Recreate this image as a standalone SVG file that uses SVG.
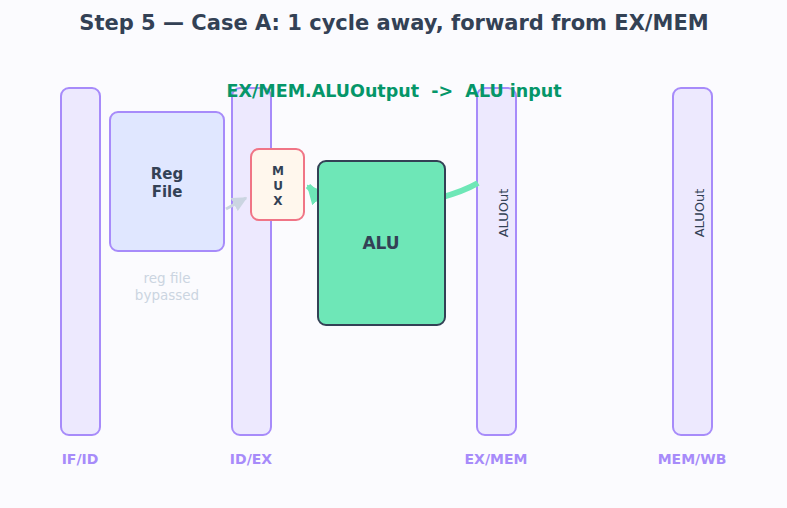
<svg xmlns="http://www.w3.org/2000/svg" width="787" height="508" viewBox="0 0 787 508">
<defs>
<style>
.reg{fill:#ede9fe;stroke:#a78bfa;stroke-width:2}
.rl{font-family:"DejaVu Sans",sans-serif;font-weight:bold;font-size:14px;fill:#a78bfa;text-anchor:middle}
.dark{font-family:"DejaVu Sans",sans-serif;fill:#334155;text-anchor:middle}
</style>
<marker id="ag" viewBox="0 0 10 10" refX="9" refY="5" markerWidth="3.2" markerHeight="3.2" orient="auto" markerUnits="strokeWidth"><path d="M0,0 L10,5 L0,10 z" fill="#6ee7b7"/></marker>
<marker id="gr" viewBox="0 0 10 10" refX="9" refY="5" markerWidth="5" markerHeight="5" orient="auto" markerUnits="strokeWidth"><path d="M0,0 L10,5 L0,10 z" fill="#cbd5e1"/></marker>
</defs>
<rect width="787" height="508" fill="#fbfbfe"/>
<text x="394" y="30" class="dark" font-size="21" font-weight="bold">Step 5 — Case A: 1 cycle away, forward from EX/MEM</text>
<g id="ifid"><rect x="61" y="88" width="39" height="347" rx="8" class="reg"/><text x="80" y="464" class="rl">IF/ID</text></g>
<g id="idex"><rect x="232" y="88" width="39" height="347" rx="8" class="reg"/><text x="251" y="464" class="rl">ID/EX</text></g>
<g id="exmem"><rect x="477" y="88" width="39" height="347" rx="8" class="reg"/><text x="496" y="464" class="rl">EX/MEM</text><text transform="translate(508,213) rotate(-90)" class="dark" font-size="13">ALUOut</text></g>
<g id="memwb"><rect x="673" y="88" width="39" height="347" rx="8" class="reg"/><text x="692" y="464" class="rl">MEM/WB</text><text transform="translate(704,213) rotate(-90)" class="dark" font-size="13">ALUOut</text></g>
<g id="regfile"><rect x="110" y="112" width="114" height="139" rx="8" fill="#e0e7ff" stroke="#a78bfa" stroke-width="2"/><text x="167" y="179" class="dark" font-size="15" font-weight="bold">Reg</text><text x="167" y="197" class="dark" font-size="15" font-weight="bold">File</text><text x="167" y="283" text-anchor="middle" font-family="DejaVu Sans,sans-serif" font-size="13.5" fill="#cbd5e1">reg file</text><text x="167" y="300" text-anchor="middle" font-family="DejaVu Sans,sans-serif" font-size="13.5" fill="#cbd5e1">bypassed</text></g>
<g id="connectors">
<path d="M226,209 L246,198" fill="none" stroke="#cbd5e1" stroke-width="3" marker-end="url(#gr)"/>
<path d="M478,183 C440,205 340,222 308,186" fill="none" stroke="#6ee7b7" stroke-width="6" marker-end="url(#ag)"/>
</g>
<g id="mux"><rect x="251" y="149" width="53" height="71" rx="8" fill="#fff7ed" stroke="#f07586" stroke-width="2"/><text x="278" y="175" class="dark" font-size="12" font-weight="bold">M</text><text x="278" y="190" class="dark" font-size="12" font-weight="bold">U</text><text x="278" y="205" class="dark" font-size="12" font-weight="bold">X</text></g>
<g id="alu"><rect x="318" y="161" width="127" height="164" rx="8" fill="#6ee7b7" stroke="#334155" stroke-width="2"/><text x="381" y="249" class="dark" font-size="17" font-weight="bold">ALU</text></g>
<text x="394" y="97" text-anchor="middle" xml:space="preserve" style="white-space:pre" font-family="DejaVu Sans,sans-serif" font-size="17.5" font-weight="bold" fill="#059669">EX/MEM.ALUOutput  -&gt;  ALU input</text>
</svg>
